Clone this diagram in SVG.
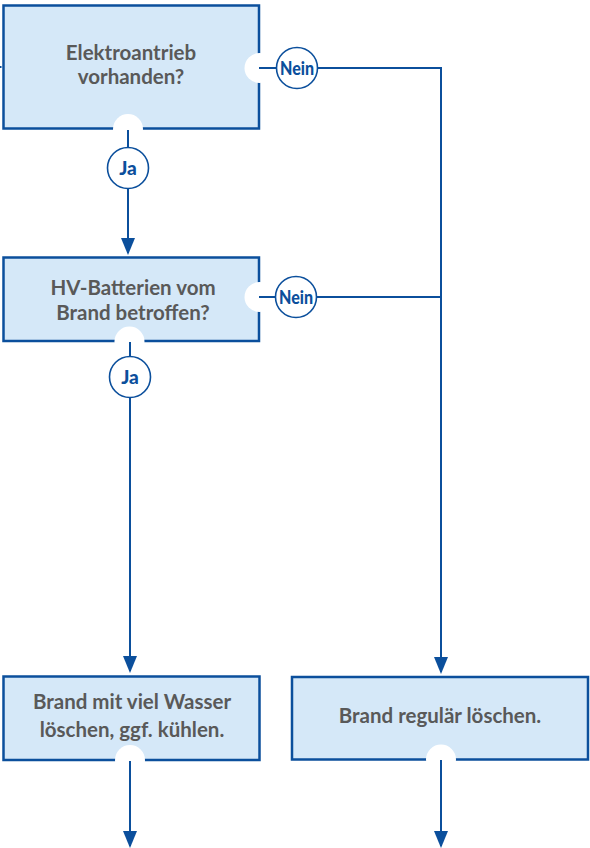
<svg xmlns="http://www.w3.org/2000/svg" width="590" height="848" viewBox="0 0 590 848">
<style>
.box{fill:#d5e8f8;stroke:#0b4f9c;stroke-width:2.5}
.notch{fill:#ffffff;stroke:none}
.lbl{font-family:Lato,"Liberation Sans",sans-serif;font-size:20.5px;font-weight:bold;fill:#595959;text-anchor:middle}
.conn{fill:none;stroke:#0b4f9c;stroke-width:2}
.badge{fill:#ffffff;stroke:#0b4f9c;stroke-width:1.6}
.btxt{font-family:Lato,"Liberation Sans",sans-serif;font-size:19px;font-weight:900;fill:#0b4f9c;text-anchor:middle}
</style>
<defs>
<marker id="arr" markerUnits="userSpaceOnUse" markerWidth="18" markerHeight="15" refX="15" refY="7" orient="auto">
<path d="M0,0 L17,7 L0,14 z" fill="#0b4f9c"/>
</marker>
</defs>
<g id="node-elektroantrieb">
<rect class="box" x="3.5" y="5.5" width="255.5" height="123"/>
<circle class="notch" cx="259.5" cy="68" r="15"/>
<circle class="notch" cx="128" cy="129" r="15"/>
<text class="lbl" x="131" y="60">Elektroantrieb</text>
<text class="lbl" x="131" y="84">vorhanden?</text>
</g>
<g id="node-hv-batterien">
<rect class="box" x="3.5" y="257.5" width="255.5" height="83.5"/>
<circle class="notch" cx="259.5" cy="297" r="15"/>
<circle class="notch" cx="129.5" cy="341.5" r="15"/>
<text class="lbl" x="133" y="295">HV-Batterien vom</text>
<text class="lbl" x="133" y="320">Brand betroffen?</text>
</g>
<g id="node-wasser">
<rect class="box" x="3.5" y="676.5" width="256" height="83.5"/>
<circle class="notch" cx="130" cy="760" r="15"/>
<text class="lbl" x="132" y="709">Brand mit viel Wasser</text>
<text class="lbl" x="132" y="737">löschen, ggf. kühlen.</text>
</g>
<g id="node-regulaer">
<rect class="box" x="292" y="677" width="296" height="82.5"/>
<circle class="notch" cx="441" cy="759.5" r="15"/>
<text class="lbl" x="440" y="723">Brand regulär löschen.</text>
</g>
<g id="connectors">
<line class="conn" x1="0" y1="67" x2="1.5" y2="67" stroke-width="1"/>
<line class="conn" x1="128" y1="130" x2="128" y2="253" marker-end="url(#arr)"/>
<line class="conn" x1="130" y1="342" x2="130" y2="671" marker-end="url(#arr)"/>
<polyline class="conn" points="259,68 441,68 441,672" marker-end="url(#arr)"/>
<line class="conn" x1="259" y1="297" x2="441" y2="297"/>
<line class="conn" x1="130" y1="761" x2="130" y2="846" marker-end="url(#arr)"/>
<line class="conn" x1="441" y1="760" x2="441" y2="846" marker-end="url(#arr)"/>
</g>
<g id="badge-nein-1">
<circle class="badge" cx="297" cy="68" r="20.5"/>
<text class="btxt" x="297" y="75" textLength="34" lengthAdjust="spacingAndGlyphs">Nein</text>
</g>
<g id="badge-ja-1">
<circle class="badge" cx="128" cy="168" r="20.5"/>
<text class="btxt" x="128" y="175">Ja</text>
</g>
<g id="badge-nein-2">
<circle class="badge" cx="296" cy="297" r="20.5"/>
<text class="btxt" x="296" y="304" textLength="34" lengthAdjust="spacingAndGlyphs">Nein</text>
</g>
<g id="badge-ja-2">
<circle class="badge" cx="130" cy="377" r="20.5"/>
<text class="btxt" x="130" y="384">Ja</text>
</g>
</svg>
